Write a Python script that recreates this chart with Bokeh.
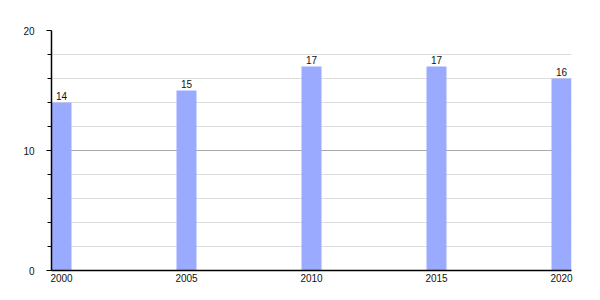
from bokeh.plotting import figure
from bokeh.models import Range1d, FixedTicker, CustomJSTickFormatter, ColumnDataSource
from bokeh.core.properties import value
from bokeh.embed import file_html
from bokeh.resources import INLINE

years = [2000, 2005, 2010, 2015, 2020]
values = [14, 15, 17, 17, 16]
y_major = [0, 10, 20]
y_minor = [2, 4, 6, 8, 12, 14, 16, 18]

bar_w = 0.8
centers = [y + bar_w / 2 for y in years]
src = ColumnDataSource(dict(x=centers, top=values, label=[str(v) for v in values]))

p = figure(width=600, height=300, output_backend="svg", toolbar_location=None,
           x_range=Range1d(years[0], years[-1] + bar_w), y_range=Range1d(0, 20),
           min_border_left=51, min_border_right=29, min_border_top=30, min_border_bottom=30)
p.outline_line_color = None
p.background_fill_color = "white"

p.vbar(x="x", top="top", width=bar_w, source=src, fill_color="#99AAFF", line_color=None)
p.text(x="x", y="top", text="label", source=src, text_align="center", text_baseline="bottom",
       y_offset=-3, text_font_size="10px", text_color="#111111",
       text_font=value("Liberation Sans"))

p.xaxis.ticker = FixedTicker(ticks=centers)
p.xaxis.formatter = CustomJSTickFormatter(code="return Math.floor(tick).toString();")
p.xaxis.major_tick_out = 0
p.xaxis.major_tick_in = 0
p.xaxis.minor_tick_out = 0
p.xaxis.axis_line_color = "black"
p.xaxis.axis_line_width = 1.5
p.xaxis.major_label_standoff = 3
p.xaxis.major_label_text_font_size = "10px"
p.xaxis.major_label_text_color = "#111111"
p.xgrid.grid_line_color = None

p.yaxis.ticker = FixedTicker(ticks=y_major, minor_ticks=y_minor)
p.yaxis.major_tick_out = 5
p.yaxis.major_tick_in = 0
p.yaxis.minor_tick_out = 4
p.yaxis.minor_tick_in = 0
p.yaxis.axis_line_color = "black"
p.yaxis.axis_line_width = 1.5
p.yaxis.major_label_standoff = 12
p.yaxis.major_label_text_font_size = "10px"
p.yaxis.major_label_text_color = "#111111"
p.ygrid.grid_line_color = "#aaaaaa"
p.ygrid.minor_grid_line_color = "#dddddd"
p.ygrid.level = "underlay"

for ax in (p.xaxis, p.yaxis):
    ax.major_label_text_font = "Liberation Sans"

open("out.html", "w").write(file_html(p, INLINE))
